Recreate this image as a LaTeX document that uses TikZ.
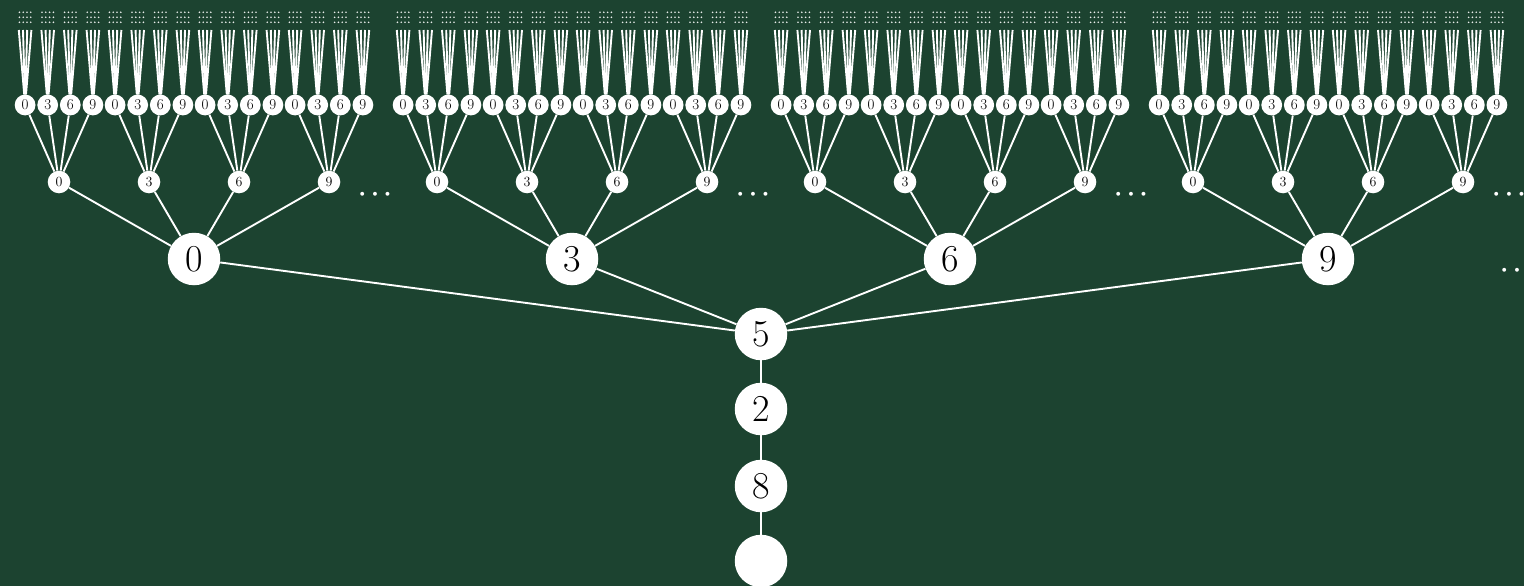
\documentclass[tikz,border=0pt]{standalone}
\definecolor{bg}{RGB}{28,67,48}
\begin{document}
\begin{tikzpicture}[x=1pt,y=-1pt,
  disc/.style={circle,fill=white,inner sep=0pt,text=black},
  big/.style={disc,minimum size=52.5pt,font=\fontsize{38}{38}\selectfont},
  mid/.style={disc,minimum size=22.6pt,font=\fontsize{14}{14}\selectfont},
  leafnode/.style={disc,minimum size=20.8pt,font=\fontsize{15}{15}\selectfont},
  edge/.style={draw=white,line width=1.9pt},
  fan/.style={draw=white,line width=1.9pt},
  ell/.style={font=\fontsize{25}{25}\selectfont\boldmath,text=white,anchor=base,inner sep=0pt},
  gridcol/.style={fill=white!90!bg}]
\fill[bg] (0,0) rectangle (1524,586);
\useasboundingbox (0,0) rectangle (1524,586);
\node[big] (r5) at (761,334) {5};
\node[big] (r2) at (761,409) {2};
\node[big] (r8) at (761,486) {8};
\node[big] (r0) at (761,561) {};
\draw[edge] (r5) -- (r2);
\draw[edge] (r2) -- (r8);
\draw[edge] (r8) -- (r0);
\foreach \g/\la in {0/0,1/3,2/6,3/9}{
  \pgfmathsetmacro\ax{194+378*\g}
  \node[big] (a\g) at (\ax,259) {\la};
  \draw[edge] (r5) -- (a\g);
  \foreach \k/\lb in {0/0,1/3,2/6,3/9}{
    \pgfmathsetmacro\bx{\ax+(\k-1.5)*90}
    \node[mid] (b\g\k) at (\bx,182) {\lb};
    \draw[edge] (a\g) -- (b\g\k);
    \foreach \j/\lc in {0/0,1/3,2/6,3/9}{
      \pgfmathsetmacro\cx{\bx+(\j-1.5)*22.6}
      \node[leafnode] (c\g\k\j) at (\cx,105) {\lc};
      \draw[edge] (b\g\k) -- (c\g\k\j);
      \foreach \m in {0,...,3}{
        \pgfmathsetmacro\tx{\cx+(\m-1.5)*4.2}
        \pgfmathsetmacro\dx{\cx+(\m-1.5)*3.8}
        \coordinate (t\g\k\j\m) at (\tx,30);
        \draw[fan] (c\g\k\j) -- (t\g\k\j\m);
        \foreach \n in {0,1,2}{\fill[gridcol] (\dx,12.3+5*\n) circle (0.9pt);}
      }
    }
  }
  \node[ell] (e\g) at (\ax+181,200) {$\cdots$};
}
\node[ell] (etop) at (1517,276) {$\cdots$};
\end{tikzpicture}
\end{document}
